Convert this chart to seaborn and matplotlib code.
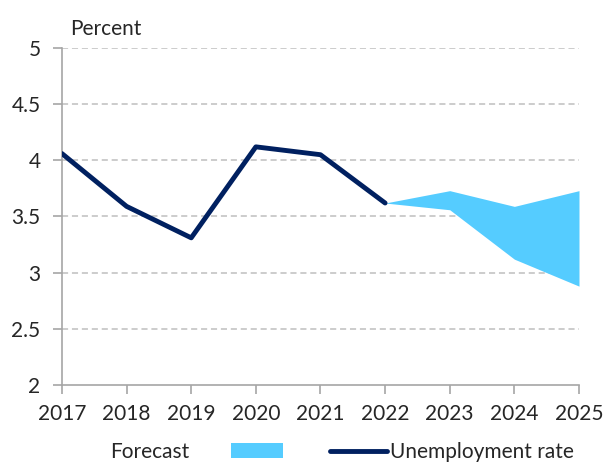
import matplotlib
matplotlib.use("Agg")
import matplotlib.pyplot as plt
import seaborn as sns
import pandas as pd
from matplotlib.patches import Patch
from matplotlib.lines import Line2D

# Data
years = [2017, 2018, 2019, 2020, 2021, 2022]
unemployment = [4.06, 3.59, 3.31, 4.12, 4.05, 3.62]

forecast_years = [2022, 2023, 2024, 2025]
forecast_low = [3.62, 3.56, 3.12, 2.88]
forecast_high = [3.62, 3.73, 3.59, 3.73]

x_ticks = [2017, 2018, 2019, 2020, 2021, 2022, 2023, 2024, 2025]
y_ticks = [2, 2.5, 3, 3.5, 4, 4.5, 5]
y_tick_labels = ["2", "2.5", "3", "3.5", "4", "4.5", "5"]

NAVY = "#002060"
BAND = "#55CCFF"
FS = 15


def main():
    sns.set_style("white")
    plt.rcParams["font.family"] = ["Lato", "DejaVu Sans"]

    df = pd.DataFrame({"year": years, "rate": unemployment})

    fig = plt.figure(figsize=(6.04, 4.62), dpi=100)
    ax = fig.add_axes([0.1026, 0.1667, 0.856, 0.7294])

    ax.fill_between(forecast_years, forecast_low, forecast_high,
                    color=BAND, linewidth=0, zorder=2)
    sns.lineplot(data=df, x="year", y="rate", ax=ax, color=NAVY,
                 linewidth=3.5, solid_capstyle="round", zorder=3)

    ax.set_xlim(2017, 2025)
    ax.set_ylim(2, 5)
    ax.set_xticks(x_ticks)
    ax.set_xticklabels([str(y) for y in x_ticks])
    ax.set_yticks(y_ticks)
    ax.set_yticklabels(y_tick_labels)
    ax.set_xlabel("")
    ax.set_ylabel("")

    for y in y_ticks[1:]:
        ax.axhline(y, color="#BFBFBF", linestyle=(0, (4, 2.5)),
                   linewidth=1.1, zorder=1)

    for side in ["top", "right"]:
        ax.spines[side].set_visible(False)
    for side in ["left", "bottom"]:
        ax.spines[side].set_color("#A6A6A6")
        ax.spines[side].set_linewidth(1.2)

    ax.tick_params(axis="both", which="both", direction="out", length=6.5,
                   width=1.2, color="#A6A6A6", labelsize=FS,
                   bottom=True, left=True)
    ax.tick_params(axis="x", pad=7)
    ax.tick_params(axis="y", pad=9)

    fig.text(70 / 604, 1 - 29 / 462, "Percent", fontsize=FS,
             ha="left", va="center")

    # legend: Excel-style, text before the patch for the forecast entry
    fig.legend(handles=[Patch(facecolor=BAND, edgecolor="none")],
               labels=["Forecast"], loc="center left",
               bbox_to_anchor=(110 / 604, 1 - 452 / 462), frameon=False,
               markerfirst=False, fontsize=FS, handlelength=2.5,
               handleheight=0.7, handletextpad=2.0, borderpad=0,
               borderaxespad=0)
    fig.legend(handles=[Line2D([0], [0], color=NAVY, linewidth=3.5,
                               solid_capstyle="round")],
               labels=["Unemployment rate"], loc="center left",
               bbox_to_anchor=(330 / 604, 1 - 452 / 462), frameon=False,
               fontsize=FS, handlelength=2.75, handletextpad=0.15,
               borderpad=0, borderaxespad=0)

    fig.savefig("out.png", dpi=100)


if __name__ == "__main__":
    main()
